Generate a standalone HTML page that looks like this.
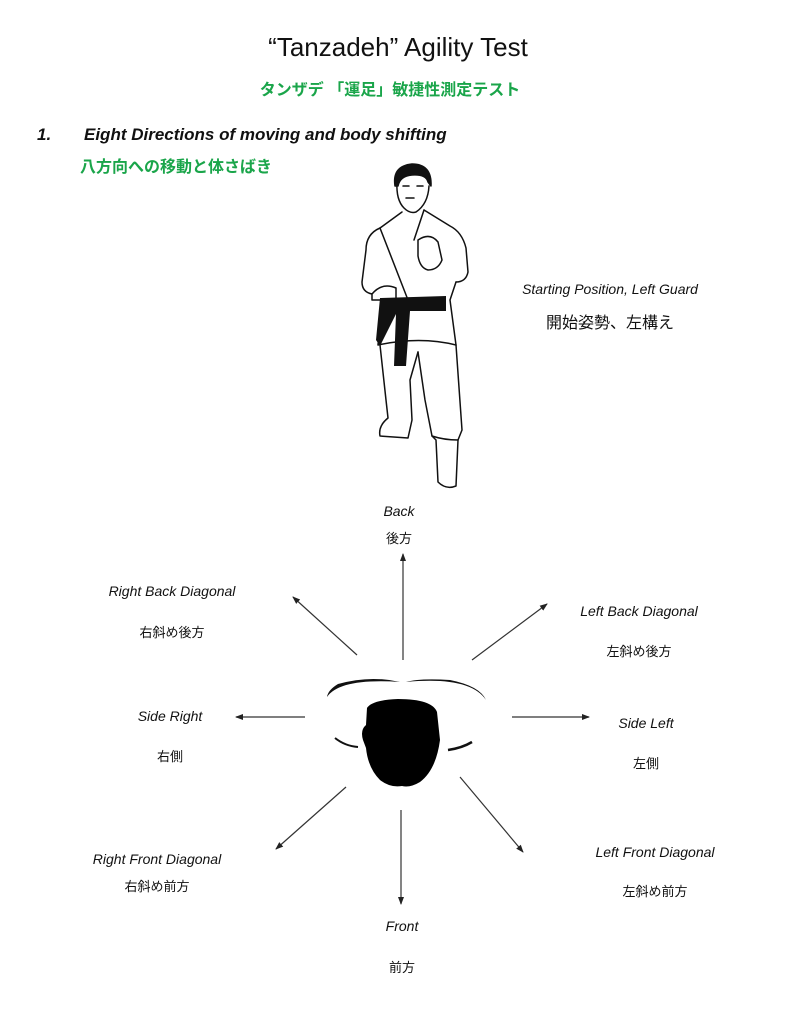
<!DOCTYPE html>
<html><head><meta charset="utf-8"><style>
body{margin:0;background:#fff}
svg{display:block}
.t{font-family:"Liberation Sans","Noto Sans CJK JP",sans-serif}
.l{font-family:"Liberation Sans",sans-serif;font-style:italic;font-size:14px;fill:#111}
.j{font-family:"Liberation Sans","Noto Sans CJK JP",sans-serif;font-size:13px;fill:#111}
.g{font-family:"Liberation Sans","Noto Sans CJK JP",sans-serif;font-weight:bold;fill:#1aa54a}
</style></head><body>
<svg width="791" height="1024" viewBox="0 0 791 1024" xmlns="http://www.w3.org/2000/svg">
<defs><marker id="a" markerWidth="8" markerHeight="8" refX="7" refY="4" orient="auto" markerUnits="userSpaceOnUse"><path d="M0,1 L8,4 L0,7 Z" fill="#222"/></marker></defs>
<text x="398" y="56" text-anchor="middle" class="t" font-size="26" fill="#111">“Tanzadeh” Agility Test</text>
<text x="390" y="95" text-anchor="middle" class="g" font-size="16">タンザデ 「運足」敏捷性測定テスト</text>
<text x="37" y="140" class="t" font-size="17" font-weight="bold" font-style="italic" fill="#111">1.</text>
<text x="84" y="140" class="t" font-size="17" font-weight="bold" font-style="italic" fill="#111">Eight Directions of moving and body shifting</text>
<text x="80" y="172" class="g" font-size="16">八方向への移動と体さばき</text>

<!-- karate figure -->
<g fill="none" stroke="#111" stroke-width="1.5" stroke-linejoin="round" stroke-linecap="round">
<!-- head -->
<path d="M397,182 Q396,200 404,208 Q410,214 416,212 Q428,204 429,186" fill="#fff"/>
<path d="M395,186 Q392,166 412,164 Q432,164 431,186 L428,182 Q426,174 412,175 Q400,176 398,186 Z" fill="#111"/>
<path d="M406,198 L414,198 M403,186 L409,186 M417,186 L423,186"/>
<!-- torso & jacket -->
<path d="M402,212 L380,228 Q366,234 366,250 L362,282 Q362,292 372,294"/>
<path d="M424,210 L450,226 Q462,232 466,248 L468,272 Q466,282 456,282"/>
<path d="M380,228 L408,300 M424,210 L414,240"/>
<path d="M372,294 Q382,282 396,288 L396,300 L372,300 Z" fill="#fff"/>
<path d="M418,240 Q430,232 438,242 L442,260 Q438,270 428,270 Q420,268 418,256 Z" fill="#fff"/>
<path d="M456,282 L450,300 L456,345 Q420,336 378,345 L382,300"/>
<!-- legs -->
<path d="M380,345 L386,400 L388,418 Q378,426 380,436 L408,438 L412,420 L410,380 L418,352"/>
<path d="M418,352 L425,400 L432,436 L436,440 L438,482 Q446,490 456,486 L458,440 L462,430 L456,345"/>
<path d="M432,436 Q444,440 458,440"/>
</g>
<path d="M380,298 L446,296 L446,311 L410,311 L406,366 L394,366 L396,314 L380,346 L376,340 Z" fill="#111"/>

<text x="610" y="294" text-anchor="middle" class="l" font-size="15">Starting Position, Left Guard</text>
<text x="610" y="328" text-anchor="middle" class="t" font-size="16" fill="#111">開始姿勢、左構え</text>

<!-- arrows -->
<g stroke="#333" stroke-width="1.2" marker-end="url(#a)">
<line x1="403" y1="660" x2="403" y2="554"/>
<line x1="357" y1="655" x2="293" y2="597"/>
<line x1="472" y1="660" x2="547" y2="604"/>
<line x1="305" y1="717" x2="236" y2="717"/>
<line x1="512" y1="717" x2="589" y2="717"/>
<line x1="346" y1="787" x2="276" y2="849"/>
<line x1="401" y1="810" x2="401" y2="904"/>
<line x1="460" y1="777" x2="523" y2="852"/>
</g>

<!-- head top view -->
<path d="M327,697 Q340,678 400,682 Q370,675 338,684 Q328,690 327,697Z" fill="#111"/>
<path d="M406,682 Q470,676 486,700 Q480,686 450,680 Q420,678 406,682Z" fill="#111"/>
<path d="M335,738 Q345,746 358,747" stroke="#111" stroke-width="2" fill="none"/>
<path d="M448,750 Q462,748 472,742" stroke="#111" stroke-width="2.5" fill="none"/>
<path d="M367,708 Q372,700 398,699 Q432,699 437,712 L440,740 Q436,770 420,782 Q410,788 402,786 Q390,788 380,780 Q368,768 366,748 L363,740 Q360,730 366,725 Z" fill="#000"/>

<text x="399" y="516" text-anchor="middle" class="l">Back</text>
<text x="399" y="543" text-anchor="middle" class="j">後方</text>
<text x="172" y="596" text-anchor="middle" class="l">Right Back Diagonal</text>
<text x="172" y="637" text-anchor="middle" class="j">右斜め後方</text>
<text x="639" y="616" text-anchor="middle" class="l">Left Back Diagonal</text>
<text x="639" y="656" text-anchor="middle" class="j">左斜め後方</text>
<text x="170" y="721" text-anchor="middle" class="l">Side Right</text>
<text x="170" y="761" text-anchor="middle" class="j">右側</text>
<text x="646" y="728" text-anchor="middle" class="l">Side Left</text>
<text x="646" y="768" text-anchor="middle" class="j">左側</text>
<text x="157" y="864" text-anchor="middle" class="l">Right Front Diagonal</text>
<text x="157" y="891" text-anchor="middle" class="j">右斜め前方</text>
<text x="655" y="857" text-anchor="middle" class="l">Left Front Diagonal</text>
<text x="655" y="896" text-anchor="middle" class="j">左斜め前方</text>
<text x="402" y="931" text-anchor="middle" class="l">Front</text>
<text x="402" y="972" text-anchor="middle" class="j">前方</text>
</svg>
</body></html>
